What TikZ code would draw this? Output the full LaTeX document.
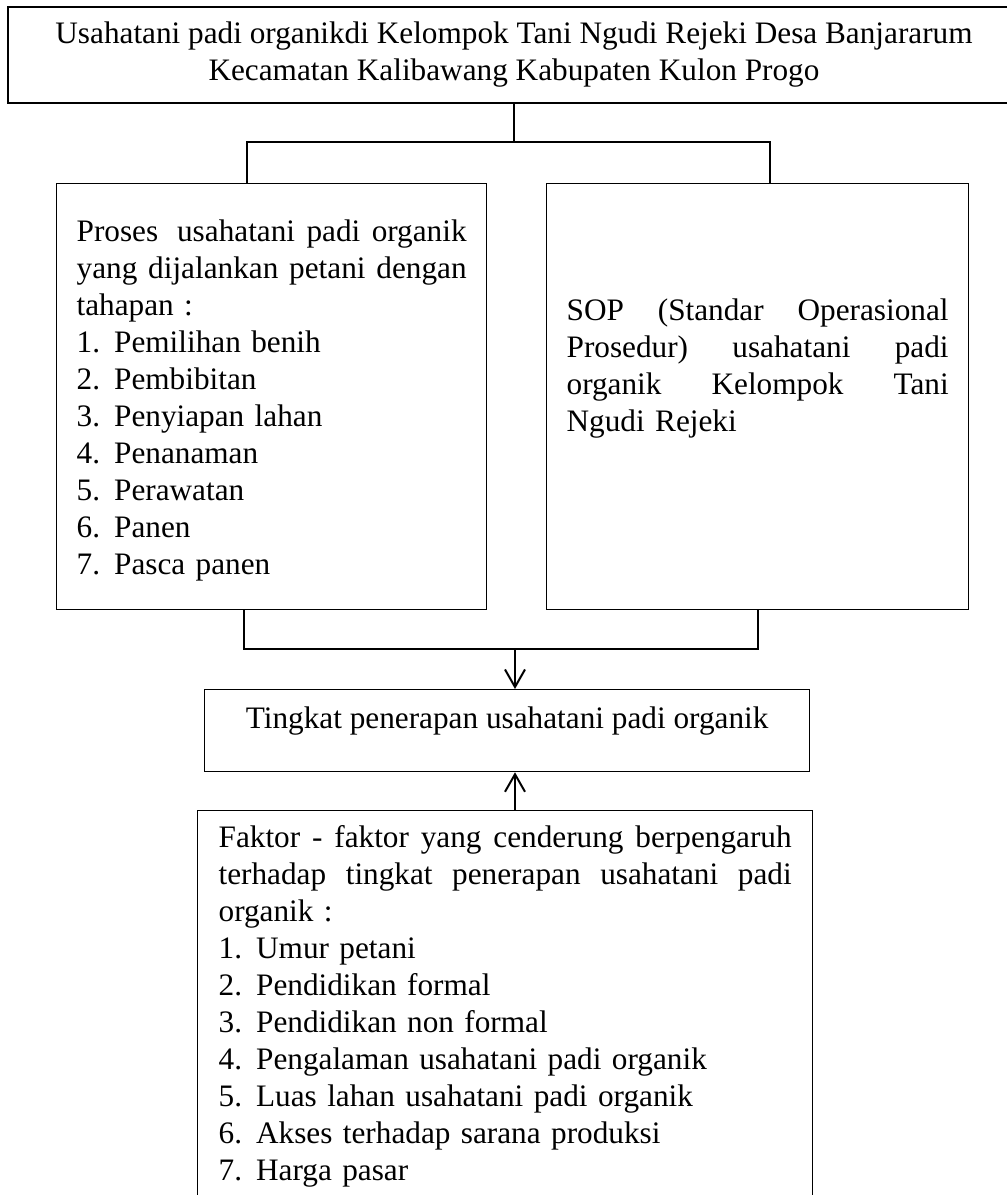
\documentclass[tikz,border=0pt]{standalone}
\usepackage{fontspec}
\setmainfont{Liberation Serif}
\usepackage{tikz}
\usetikzlibrary{arrows.meta}
\newcommand{\rata}[2]{\leavevmode\hbox to #1{#2}}
\newcommand{\butir}[2]{\makebox[15pt][l]{#1}#2}

\begin{document}
\begin{tikzpicture}[x=0.4pt,y=-0.4pt,
    font=\fontsize{12.5}{14.8}\selectfont,
    kotak/.style={draw,line width=0.5pt,inner ysep=0pt,inner xsep=8pt,align=left},
    garis/.style={line width=0.8pt},
    panah/.style={garis,-{Straight Barb[length=7pt,width=8pt]}}]
    \path[use as bounding box,clip] (0,0) rectangle (1007,1195);

    % judul
    \node[kotak,align=center,inner sep=0pt,minimum width=404.8pt,minimum height=38.4pt] (judul) at (514,55)
      {Usahatani padi organikdi Kelompok Tani Ngudi Rejeki Desa Banjararum\\
       Kecamatan Kalibawang Kabupaten Kulon Progo};

    % proses dan SOP
    \node[kotak,anchor=north west,text width=156pt,text height=23.2pt,text depth=147.2pt] (proses) at (56,183)
      {\rata{156pt}{Proses\hskip 3pt\hfill usahatani\hfill padi\hfill organik}\\
       \rata{156pt}{yang\hfill dijalankan\hfill petani\hfill dengan}\\
       tahapan :\\
       \butir{1.}{Pemilihan benih}\\
       \butir{2.}{Pembibitan}\\
       \butir{3.}{Penyiapan lahan}\\
       \butir{4.}{Penanaman}\\
       \butir{5.}{Perawatan}\\
       \butir{6.}{Panen}\\
       \butir{7.}{Pasca panen}};
    \node[kotak,anchor=north west,text width=152.8pt,text height=54.8pt,text depth=115.6pt] (sop) at (546,183)
      {\rata{152.8pt}{SOP\hfill(Standar\hfill Operasional}\\
       \rata{152.8pt}{Prosedur)\hfill usahatani\hfill padi}\\
       \rata{152.8pt}{organik\hfill Kelompok\hfill Tani}\\
       Ngudi Rejeki};

    % tingkat penerapan
    \node[kotak,anchor=north west,align=center,minimum width=242pt,text height=15.6pt,text depth=17.2pt] (tingkat) at (204,689)
      {Tingkat penerapan usahatani padi organik};

    % faktor
    \node[kotak,anchor=north west,inner xsep=8.4pt,text width=229.2pt,text height=14.8pt,text depth=160pt] (faktor) at (197,810)
      {\rata{229.2pt}{Faktor\hfill -\hfill faktor\hfill yang\hfill cenderung\hfill berpengaruh}\\
       \rata{229.2pt}{terhadap\hfill tingkat\hfill penerapan\hfill usahatani\hfill padi}\\
       organik :\\
       \butir{1.}{Umur petani}\\
       \butir{2.}{Pendidikan formal}\\
       \butir{3.}{Pendidikan non formal}\\
       \butir{4.}{Pengalaman usahatani padi organik}\\
       \butir{5.}{Luas lahan usahatani padi organik}\\
       \butir{6.}{Akses terhadap sarana produksi}\\
       \butir{7.}{Harga pasar}};

    \coordinate (atas) at (514,142);
    \coordinate (bawah) at (515,649);

    \draw[garis] (judul.south) -- (atas);
    \draw[garis] ([xshift=76.4pt]proses.north west) |- (atas) -| ([xshift=89.6pt]sop.north west);
    \draw[garis] ([xshift=75.2pt]proses.south west) |- (bawah) -| ([xshift=84.8pt]sop.south west);
    \draw[panah] (bawah) -- (bawah |- tingkat.north);
    \draw[panah] (faktor.north -| bawah) -- (tingkat.south -| bawah);
\end{tikzpicture}
\end{document}
